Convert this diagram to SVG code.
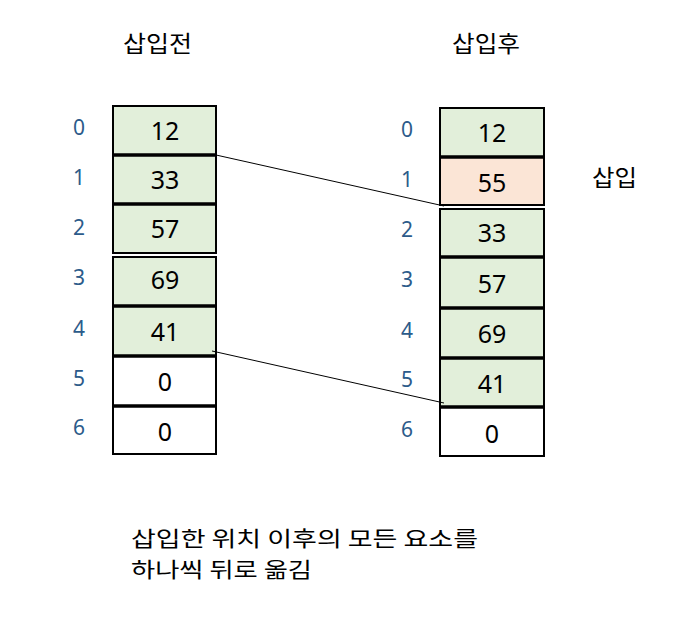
<svg xmlns="http://www.w3.org/2000/svg" width="690" height="644" viewBox="0 0 690 644">
<style>
.t{font-family:"Noto Sans CJK KR","Noto Sans",sans-serif;fill:#000}
.v{font-family:"Noto Sans","Open Sans",sans-serif;font-size:25px;fill:#000;text-anchor:middle}
.i{font-family:"Noto Sans","Open Sans",sans-serif;font-size:21px;fill:#2c5b8a;text-anchor:middle}
.g{fill:#e2efda;stroke:#000;stroke-width:2}
.o{fill:#fbe5d6;stroke:#000;stroke-width:2}
.w{fill:#fff;stroke:#000;stroke-width:2}
.s{stroke:#000;stroke-width:3.5}
.c{stroke:#000;stroke-width:1;fill:none}
</style>
<rect width="690" height="644" fill="#fff"/>
<text class="t" x="123" y="52" font-size="23" textLength="69" lengthAdjust="spacingAndGlyphs">삽입전</text>
<text class="t" x="452" y="52" font-size="23" textLength="68" lengthAdjust="spacingAndGlyphs">삽입후</text>
<text class="t" x="592" y="186" font-size="23" textLength="45" lengthAdjust="spacingAndGlyphs">삽입</text>
<g id="before">
<g id="b0"><rect class="g" x="113" y="106" width="103" height="49"/><text class="i" x="79" y="135">0</text><text class="v" x="165" y="140">12</text></g>
<g id="b1"><rect class="g" x="113" y="155" width="103" height="49"/><text class="i" x="79" y="185">1</text><text class="v" x="165" y="189">33</text></g>
<g id="b2"><rect class="g" x="113" y="204" width="103" height="49"/><text class="i" x="79" y="235">2</text><text class="v" x="165" y="238">57</text></g>
<g id="b3"><rect class="g" x="113" y="257" width="103" height="49"/><text class="i" x="79" y="285">3</text><text class="v" x="165" y="289">69</text></g>
<g id="b4"><rect class="g" x="113" y="306" width="103" height="50"/><text class="i" x="79" y="336">4</text><text class="v" x="165" y="341">41</text></g>
<g id="b5"><rect class="w" x="113" y="356" width="103" height="50"/><text class="i" x="79" y="386">5</text><text class="v" x="165" y="391">0</text></g>
<g id="b6"><rect class="w" x="113" y="406" width="103" height="48"/><text class="i" x="79" y="435">6</text><text class="v" x="165" y="441">0</text></g>
<line class="s" x1="112" y1="155" x2="217" y2="155"/>
<line class="s" x1="112" y1="204" x2="217" y2="204"/>
<line class="s" x1="112" y1="306" x2="217" y2="306"/>
<line class="s" x1="112" y1="356" x2="217" y2="356"/>
<line class="s" x1="112" y1="406" x2="217" y2="406"/>
</g>
<g id="after">
<g id="a0"><rect class="g" x="440" y="108" width="104" height="49"/><text class="i" x="407" y="137">0</text><text class="v" x="492" y="142">12</text></g>
<g id="a1"><rect class="o" x="440" y="157" width="104" height="48"/><text class="i" x="407" y="187">1</text><text class="v" x="492" y="192">55</text></g>
<g id="a2"><rect class="g" x="440" y="209" width="104" height="48"/><text class="i" x="407" y="237">2</text><text class="v" x="492" y="242">33</text></g>
<g id="a3"><rect class="g" x="440" y="257" width="104" height="51"/><text class="i" x="407" y="287">3</text><text class="v" x="492" y="293">57</text></g>
<g id="a4"><rect class="g" x="440" y="308" width="104" height="50"/><text class="i" x="407" y="338">4</text><text class="v" x="492" y="343">69</text></g>
<g id="a5"><rect class="g" x="440" y="358" width="104" height="49"/><text class="i" x="407" y="387">5</text><text class="v" x="492" y="393">41</text></g>
<g id="a6"><rect class="w" x="440" y="407" width="104" height="49"/><text class="i" x="407" y="437">6</text><text class="v" x="492" y="443">0</text></g>
<line class="s" x1="439" y1="157" x2="545" y2="157"/>
<line class="s" x1="439" y1="257" x2="545" y2="257"/>
<line class="s" x1="439" y1="308" x2="545" y2="308"/>
<line class="s" x1="439" y1="358" x2="545" y2="358"/>
<line class="s" x1="439" y1="407" x2="545" y2="407"/>
</g>
<g id="connectors">
<line class="c" x1="216" y1="155" x2="444" y2="206"/>
<line class="c" x1="212" y1="351" x2="444" y2="403"/>
</g>
<text class="t" x="131" y="546" font-size="21" textLength="347" lengthAdjust="spacingAndGlyphs">삽입한 위치 이후의 모든 요소를</text>
<text class="t" x="131" y="577" font-size="21" textLength="181" lengthAdjust="spacingAndGlyphs">하나씩 뒤로 옮김</text>
</svg>
